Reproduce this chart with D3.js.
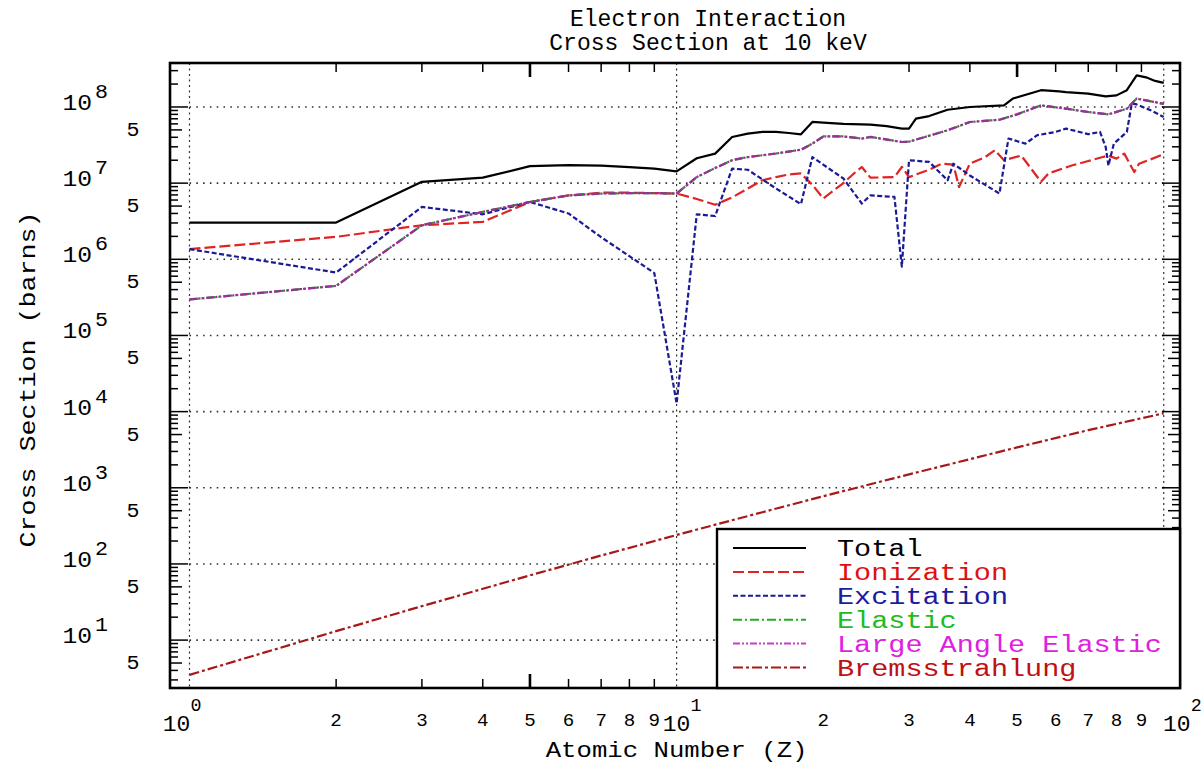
<!DOCTYPE html>
<html>
<head>
<meta charset="utf-8">
<script src="https://cdn.jsdelivr.net/npm/d3@7"></script>
<style>
  body { margin: 0; background: #fff; }
  svg { display: block; }
</style>
</head>
<body>
<svg id="chart" width="1204" height="768"></svg>
<script>
// Electron interaction cross sections at 10 keV versus atomic number (barns)

const seriesNames = ["Total", "Ionization", "Excitation", "Elastic", "Large Angle Elastic", "Bremsstrahlung"];

const totalZ = [1, 2, 3, 4, 5, 6, 7, 8, 9, 10, 11, 12, 13, 14, 15, 16, 17, 18, 19, 20, 22, 25, 27, 29, 30, 31, 33, 36, 40, 47, 49, 56, 61, 63, 70, 76, 80, 84, 88, 92, 96, 100];
const totalValues = [3.04e6, 3.04e6, 1.04e7, 1.18e7, 1.67e7, 1.72e7, 1.70e7, 1.62e7, 1.55e7, 1.43e7, 2.12e7, 2.44e7, 4.03e7, 4.47e7, 4.7e7, 4.7e7, 4.55e7, 4.38e7, 6.36e7, 6.24e7, 6.0e7, 5.87e7, 5.6e7, 5.2e7, 5.2e7, 7.05e7, 7.6e7, 9.2e7, 1.0e8, 1.05e8, 1.29e8, 1.66e8, 1.6e8, 1.57e8, 1.5e8, 1.38e8, 1.42e8, 1.66e8, 2.6e8, 2.45e8, 2.2e8, 2.07e8];

const ionizationZ = [1, 2, 3, 4, 5, 6, 7, 8, 9, 10, 11, 12, 13, 14, 15, 16, 17, 18, 19, 20, 21, 22, 23, 24, 25, 28, 29, 30, 33, 35, 37, 38, 40, 43, 45, 47, 51, 56, 58, 65, 70, 75, 77, 80, 83, 87, 89, 94, 100];
const ionizationValues = [1.36e6, 1.97e6, 2.8e6, 3.1e6, 5.66e6, 6.9e6, 7.5e6, 7.5e6, 7.4e6, 7.3e6, 6.2e6, 5.2e6, 6.5e6, 8.5e6, 1.09e7, 1.2e7, 1.3e7, 1.34e7, 9.5e6, 6.3e6, 8.0e6, 1.0e7, 1.3e7, 1.63e7, 1.18e7, 1.2e7, 1.63e7, 1.2e7, 1.5e7, 1.8e7, 1.75e7, 8.9e6, 1.8e7, 2.2e7, 2.7e7, 2.0e7, 2.3e7, 1.04e7, 1.34e7, 1.72e7, 1.95e7, 2.2e7, 2.3e7, 2.1e7, 2.44e7, 1.4e7, 1.8e7, 2.05e7, 2.4e7];

const excitationZ = [1, 2, 3, 4, 5, 6, 7, 8, 9, 10, 11, 12, 13, 14, 16, 18, 19, 20, 22, 24, 25, 28, 29, 30, 33, 36, 37, 40, 46, 48, 52, 55, 60, 63, 70, 74, 76, 77, 79, 84, 86, 88, 94, 100];
const excitationValues = [1.36e6, 6.7e5, 4.87e6, 3.9e6, 5.66e6, 4.0e6, 1.95e6, 1.1e6, 6.6e5, 1.28e4, 3.9e6, 3.7e6, 1.55e7, 1.5e7, 8.5e6, 5.3e6, 2.2e7, 1.75e7, 1.15e7, 5.4e6, 6.9e6, 6.6e6, 8.0e5, 2.0e7, 1.9e7, 1.09e7, 1.8e7, 1.26e7, 7.3e6, 3.85e7, 3.3e7, 4.26e7, 4.7e7, 5.2e7, 4.4e7, 4.7e7, 3.0e7, 1.7e7, 3.3e7, 4.7e7, 1.11e8, 1.08e8, 9.06e7, 7.4e7];

const elasticZ = [1, 2, 3, 4, 5, 6, 7, 8, 9, 10, 11, 12, 13, 14, 16, 18, 19, 20, 22, 24, 25, 29, 30, 36, 40, 46, 50, 56, 63, 70, 77, 84, 88, 92, 100];
const elasticValues = [2.97e5, 4.48e5, 2.8e6, 4.19e6, 5.66e6, 6.9e6, 7.3e6, 7.4e6, 7.4e6, 7.3e6, 1.2e7, 1.58e7, 2.0e7, 2.2e7, 2.45e7, 2.75e7, 3.3e7, 4.1e7, 4.1e7, 3.85e7, 4.04e7, 3.47e7, 3.5e7, 4.94e7, 6.35e7, 6.8e7, 8.0e7, 1.05e8, 9.5e7, 8.6e7, 8.0e7, 9.5e7, 1.29e8, 1.22e8, 1.1e8];

const largeAngleElasticZ = [1, 2, 3, 4, 5, 6, 7, 8, 9, 10, 11, 12, 13, 14, 16, 18, 19, 20, 22, 24, 25, 29, 30, 36, 40, 46, 50, 56, 63, 70, 77, 84, 88, 92, 100];
const largeAngleElasticValues = [2.97e5, 4.48e5, 2.8e6, 4.19e6, 5.66e6, 6.9e6, 7.3e6, 7.4e6, 7.4e6, 7.3e6, 1.2e7, 1.58e7, 2.0e7, 2.2e7, 2.45e7, 2.75e7, 3.3e7, 4.1e7, 4.1e7, 3.85e7, 4.04e7, 3.47e7, 3.5e7, 4.94e7, 6.35e7, 6.8e7, 8.0e7, 1.05e8, 9.5e7, 8.6e7, 8.0e7, 9.5e7, 1.29e8, 1.22e8, 1.1e8];

const bremsstrahlungZ = [1, 2, 3, 5, 7, 10, 15, 20, 30, 50, 70, 100];
const bremsstrahlungValues = [3.5, 13.1, 27.9, 70.8, 129, 240, 478, 774, 1500, 3390, 5710, 9500];

// Axis tick labels
const yDecadeExponents = [1, 2, 3, 4, 5, 6, 7, 8];
const yHalfDecadeLabel = "5";
const xDecadeExponents = [0, 1, 2];
const xMantissaLabels = ["2", "3", "4", "5", "6", "7", "8", "9"];
const titleLines = ["Electron Interaction", "Cross Section at 10 keV"];
const xTitle = "Atomic Number (Z)";
const yTitle = "Cross Section (barns)";

// ---------------------------------------------------------------------------
const svg = d3.select("#chart");
const FONT = "'Liberation Mono', 'DejaVu Sans Mono', monospace";
const frame = { left: 170, right: 1180, top: 63, bottom: 688 };

const x = d3.scaleLog().domain([0.912, 108]).range([frame.left, frame.right]);
const y = d3.scaleLog().domain([2.35, 3.78e8]).range([frame.bottom, frame.top]);

svg.append("rect").attr("width", 1204).attr("height", 768).attr("fill", "#fff");

// Monospace text, stretched to the wide typewriter pitch of the plot labels
function monoText(parent, str, px, py, size, pitch, anchor, fill) {
  return parent.append("text")
    .attr("x", px).attr("y", py)
    .attr("font-family", FONT)
    .attr("font-size", size)
    .attr("text-anchor", anchor || "start")
    .attr("textLength", str.length * pitch)
    .attr("lengthAdjust", "spacingAndGlyphs")
    .attr("fill", fill || "#000")
    .text(str);
}

// Title
titleLines.forEach((t, i) => {
  monoText(svg, t, 708, 26 + i * 24, 23, 13.8, "middle");
});

// Dotted grid: decades of the cross section, and Z = 1, 10, 100
const grid = svg.append("g");
const zMin = 1, zMax = 100;
yDecadeExponents.forEach(n => {
  grid.append("line")
    .attr("x1", x(zMin)).attr("x2", x(zMax))
    .attr("y1", y(Math.pow(10, n))).attr("y2", y(Math.pow(10, n)))
    .attr("stroke", "#333").attr("stroke-width", 1.6)
    .attr("stroke-dasharray", "1.6,5.2");
});
xDecadeExponents.forEach(n => {
  grid.append("line")
    .attr("x1", x(Math.pow(10, n))).attr("x2", x(Math.pow(10, n)))
    .attr("y1", frame.top).attr("y2", frame.bottom)
    .attr("stroke", "#333").attr("stroke-width", 1.2)
    .attr("stroke-dasharray", "2,3.5");
});

// Curves
const series = [
  { z: totalZ, v: totalValues, color: "#000000", legendColor: "#000000", dash: null },
  { z: ionizationZ, v: ionizationValues, color: "#e02424", legendColor: "#e02424", dash: "11,4" },
  { z: excitationZ, v: excitationValues, color: "#1a1a96", legendColor: "#1a1a96", dash: "5,2.5" },
  { z: elasticZ, v: elasticValues, color: "#2a8a2a", legendColor: "#2aaa2a", dash: "9,3,2,3" },
  { z: largeAngleElasticZ, v: largeAngleElasticValues, color: "#a02aa0", legendColor: "#c83cc8", dash: "7,2,2,2,2,2" },
  { z: bremsstrahlungZ, v: bremsstrahlungValues, color: "#a81818", legendColor: "#a81818", dash: "10,3,3,3" }
];

svg.append("clipPath").attr("id", "plotClip")
  .append("rect")
  .attr("x", frame.left).attr("y", frame.top)
  .attr("width", frame.right - frame.left).attr("height", frame.bottom - frame.top);

const line = d3.line().x(d => x(d[0])).y(d => y(d[1]));
const curves = svg.append("g").attr("clip-path", "url(#plotClip)");
series.forEach(s => {
  curves.append("path")
    .datum(s.z.map((z, i) => [z, s.v[i]]))
    .attr("d", line)
    .attr("fill", "none")
    .attr("stroke", s.color)
    .attr("stroke-width", 2.2)
    .attr("stroke-linejoin", "round")
    .attr("stroke-dasharray", s.dash);
});

// Minor/major ticks on all four sides, pointing inward
const ticks = svg.append("g").attr("stroke", "#000");
const mantissas = d3.range(1, 10);
d3.range(0, 9).forEach(n => {
  mantissas.forEach(m => {
    const v = m * Math.pow(10, n);
    const [lo, hi] = y.domain();
    if (v < lo || v > hi) return;
    const len = m === 1 ? 18 : (m === 5 ? 12 : 8);
    const yy = y(v);
    ticks.append("line").attr("x1", frame.left).attr("x2", frame.left + len)
      .attr("y1", yy).attr("y2", yy).attr("stroke-width", 1.5);
    ticks.append("line").attr("x1", frame.right).attr("x2", frame.right - len)
      .attr("y1", yy).attr("y2", yy).attr("stroke-width", 1.5);
  });
});
[1, 10].forEach(dec => {
  mantissas.slice(1).forEach(m => {
    const z = m * dec;
    const len = m === 5 ? 14 : 9;
    const xx = x(z);
    const sw = m === 5 ? 2.6 : 1.5;
    ticks.append("line").attr("x1", xx).attr("x2", xx)
      .attr("y1", frame.bottom).attr("y2", frame.bottom - len).attr("stroke-width", sw);
    ticks.append("line").attr("x1", xx).attr("x2", xx)
      .attr("y1", frame.top).attr("y2", frame.top + len).attr("stroke-width", sw);
  });
});

// Frame
svg.append("rect")
  .attr("x", frame.left).attr("y", frame.top)
  .attr("width", frame.right - frame.left).attr("height", frame.bottom - frame.top)
  .attr("fill", "none").attr("stroke", "#000").attr("stroke-width", 2.6);

// Y tick labels: 10^n and 5
const yLabels = svg.append("g");
yDecadeExponents.forEach(n => {
  const yy = y(Math.pow(10, n));
  monoText(yLabels, "10", 92, yy + 3, 22, 14.8, "end");
  monoText(yLabels, String(n), 95, yy - 9, 20, 13, "start");
});
d3.range(0, 8).forEach(n => {
  const yy = y(5 * Math.pow(10, n));
  monoText(yLabels, yHalfDecadeLabel, 133, yy + 6, 20, 13, "middle");
});

// X tick labels
const xLabels = svg.append("g");
xDecadeExponents.forEach(n => {
  const xx = x(Math.pow(10, n)) - 13 + 13 * n;
  monoText(xLabels, "10", xx, 731, 22, 13.8, "middle");
  monoText(xLabels, String(n), xx + 14, 711, 19, 11, "start");
});
[1, 10].forEach(dec => {
  xMantissaLabels.forEach((lbl, i) => {
    monoText(xLabels, lbl, x((i + 2) * dec), 726, 19, 11.5, "middle");
  });
});

// Axis titles
monoText(svg, xTitle, x(10), 757, 22, 15.4, "middle");
svg.append("text")
  .attr("transform", `translate(35,${(frame.top + frame.bottom) / 2 + 4}) rotate(-90)`)
  .attr("font-family", FONT).attr("font-size", 22)
  .attr("text-anchor", "middle")
  .attr("textLength", yTitle.length * 16)
  .attr("lengthAdjust", "spacingAndGlyphs")
  .text(yTitle);

// Legend
const legend = svg.append("g");
const lg = { left: 717, top: 529 };
legend.append("rect")
  .attr("x", lg.left).attr("y", lg.top)
  .attr("width", frame.right - lg.left).attr("height", frame.bottom - lg.top)
  .attr("fill", "#fff").attr("stroke", "#000").attr("stroke-width", 2.4);
const legendTextColors = ["#000000", "#e01010", "#1c1c9c", "#22bb22", "#e020e0", "#c01010"];
series.forEach((s, i) => {
  const ry = 548 + i * 23.9;
  legend.append("line")
    .attr("x1", 733).attr("x2", 806).attr("y1", ry).attr("y2", ry)
    .attr("stroke", s.legendColor).attr("stroke-width", 2)
    .attr("stroke-dasharray", s.dash);
  monoText(legend, seriesNames[i], 837, ry + 8, 23, 17.1, "start", legendTextColors[i]);
});
</script>
</body>
</html>
